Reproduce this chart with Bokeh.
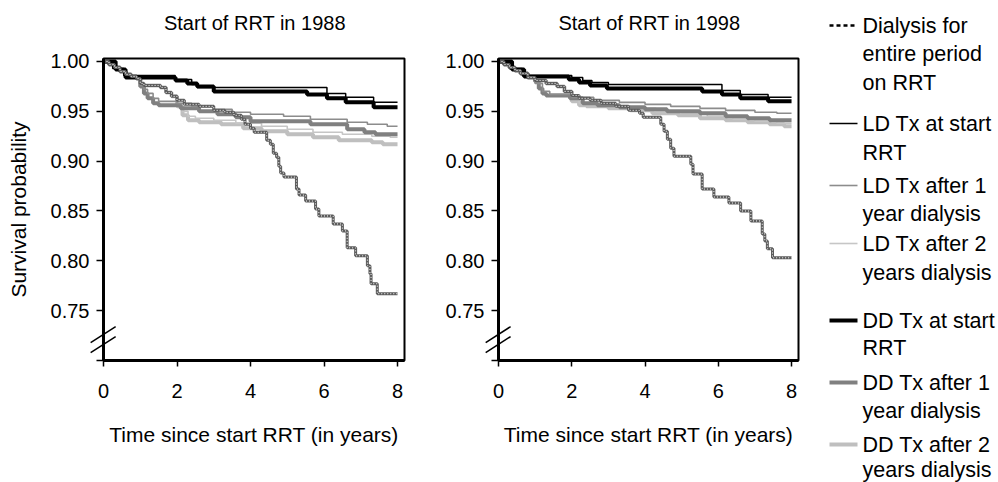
from bokeh.plotting import figure
from bokeh.layouts import row
from bokeh.models import Range1d, FixedTicker
from bokeh.embed import file_html
from bokeh.resources import INLINE
from bokeh.core.properties import value

FONT = "Liberation Sans"

# ---------------- data ----------------
x_ticks = [0, 2, 4, 6, 8]
x_tick_labels = ["0", "2", "4", "6", "8"]
y_ticks = [0.70, 0.75, 0.80, 0.85, 0.90, 0.95, 1.00]
y_tick_labels = ["", "0.75", "0.80", "0.85", "0.90", "0.95", "1.00"]

panel_titles = ["Start of RRT in 1988", "Start of RRT in 1998"]
x_label = "Time since start RRT (in years)"
y_label = "Survival probability"

legend_lines = [["Dialysis for", "entire period", "on RRT"],
                ["LD Tx at start", "RRT"],
                ["LD Tx after 1", "year dialysis"],
                ["LD Tx after 2", "years dialysis"],
                ["DD Tx at start", "RRT"],
                ["DD Tx after 1", "year dialysis"],
                ["DD Tx after 2", "years dialysis"]]

# 1988
dial88_t = [0.00, 0.15, 0.30, 0.45, 0.60, 0.75, 0.90, 1.00, 1.10, 1.55, 1.70, 1.85, 2.00, 2.20, 2.60,
            3.00, 3.30, 3.55, 3.75, 3.85, 4.00, 4.10, 4.44, 4.54, 4.62, 4.71, 4.77, 4.82, 4.91, 5.25,
            5.32, 5.50, 5.77, 5.86, 6.25, 6.50, 6.63, 6.86, 7.18, 7.25, 7.28, 7.45, 8.00]
dial88_s = [1.000, 0.997, 0.994, 0.990, 0.987, 0.985, 0.983, 0.978, 0.976, 0.974, 0.969, 0.965, 0.961, 0.957, 0.955,
            0.951, 0.949, 0.946, 0.942, 0.937, 0.933, 0.929, 0.921, 0.917, 0.908, 0.904, 0.895, 0.888, 0.884, 0.872,
            0.866, 0.860, 0.852, 0.845, 0.837, 0.830, 0.813, 0.805, 0.795, 0.787, 0.777, 0.767, 0.767]
ld0_88_t = [0.00, 0.25, 0.55, 1.95, 2.40, 2.55, 6.08, 6.59, 7.35, 8.00]
ld0_88_s = [1.000, 0.993, 0.986, 0.982, 0.977, 0.974, 0.968, 0.964, 0.959, 0.959]
ld1_88_t = [0.00, 0.15, 0.30, 0.45, 0.60, 0.75, 0.90, 1.00, 1.10, 1.20, 1.35, 1.50, 2.00, 2.40, 3.00,
            3.50, 4.00, 4.90, 5.63, 6.63, 7.18, 7.72, 8.00]
ld1_88_s = [1.000, 0.997, 0.994, 0.990, 0.987, 0.985, 0.983, 0.976, 0.972, 0.968, 0.963, 0.960, 0.958, 0.955, 0.952,
            0.949, 0.947, 0.945, 0.942, 0.939, 0.937, 0.935, 0.935]
ld2_88_t = [0.00, 0.15, 0.30, 0.45, 0.60, 0.75, 0.90, 1.00, 1.10, 1.55, 1.70, 1.85, 2.00, 2.15, 2.30,
            2.50, 3.00, 3.60, 4.30, 5.00, 5.70, 6.50, 7.30, 7.80, 8.00]
ld2_88_s = [1.000, 0.997, 0.994, 0.990, 0.987, 0.985, 0.983, 0.978, 0.976, 0.974, 0.969, 0.965, 0.958, 0.950, 0.945,
            0.943, 0.941, 0.938, 0.935, 0.932, 0.929, 0.927, 0.925, 0.924, 0.924]
dd0_88_t = [0.00, 0.33, 0.60, 1.96, 2.28, 2.55, 3.00, 5.54, 6.08, 6.59, 7.35, 8.00]
dd0_88_s = [1.000, 0.992, 0.984, 0.981, 0.978, 0.975, 0.970, 0.967, 0.963, 0.959, 0.954, 0.954]
dd1_88_t = [0.00, 0.15, 0.30, 0.45, 0.60, 0.75, 0.90, 1.00, 1.10, 1.20, 1.35, 1.50, 2.10, 2.60, 3.10,
            3.60, 4.00, 5.63, 6.63, 7.10, 7.40, 8.00]
dd1_88_s = [1.000, 0.997, 0.994, 0.990, 0.987, 0.985, 0.983, 0.975, 0.968, 0.963, 0.958, 0.956, 0.953, 0.950, 0.947,
            0.944, 0.940, 0.937, 0.932, 0.929, 0.927, 0.927]
dd2_88_t = [0.00, 0.15, 0.30, 0.45, 0.60, 0.75, 0.90, 1.00, 1.10, 1.55, 1.70, 1.85, 2.00, 2.15, 2.30,
            2.60, 3.20, 3.80, 4.30, 5.00, 5.70, 6.40, 7.30, 7.60, 8.00]
dd2_88_s = [1.000, 0.997, 0.994, 0.990, 0.987, 0.985, 0.983, 0.978, 0.976, 0.974, 0.969, 0.965, 0.955, 0.946, 0.941,
            0.939, 0.937, 0.933, 0.930, 0.927, 0.924, 0.921, 0.919, 0.917, 0.917]

# 1998
dial98_t = [0.00, 0.15, 0.30, 0.45, 0.60, 0.80, 1.00, 1.30, 1.60, 1.80, 2.00, 2.20, 2.50, 2.80, 3.20,
            3.55, 3.85, 3.95, 4.43, 4.52, 4.61, 4.70, 4.79, 5.25, 5.31, 5.56, 5.88, 6.29, 6.61, 6.89,
            7.20, 7.27, 7.34, 7.48, 8.00]
dial98_s = [1.000, 0.997, 0.994, 0.991, 0.988, 0.984, 0.981, 0.978, 0.975, 0.970, 0.966, 0.963, 0.961, 0.958, 0.955,
            0.951, 0.948, 0.944, 0.937, 0.930, 0.922, 0.913, 0.905, 0.897, 0.887, 0.872, 0.864, 0.858, 0.850, 0.840,
            0.827, 0.820, 0.812, 0.803, 0.803]
ld0_98_t = [0.00, 0.30, 0.65, 2.00, 2.30, 2.55, 3.00, 6.10, 6.60, 7.36, 8.00]
ld0_98_s = [1.000, 0.993, 0.986, 0.984, 0.981, 0.979, 0.977, 0.971, 0.967, 0.964, 0.964]
ld1_98_t = [0.00, 0.15, 0.30, 0.45, 0.60, 0.80, 1.00, 1.20, 1.40, 2.00, 2.60, 3.30, 4.00, 4.70, 5.50,
            6.20, 7.00, 7.60, 8.00]
ld1_98_s = [1.000, 0.997, 0.994, 0.991, 0.988, 0.984, 0.978, 0.970, 0.967, 0.964, 0.961, 0.959, 0.957, 0.955, 0.953,
            0.951, 0.949, 0.948, 0.948]
ld2_98_t = [0.00, 0.15, 0.30, 0.45, 0.60, 0.80, 1.00, 1.30, 1.60, 1.80, 2.00, 2.20, 2.40, 3.00, 3.60,
            4.30, 5.00, 5.70, 6.40, 7.00, 7.60, 8.00]
ld2_98_s = [1.000, 0.997, 0.994, 0.991, 0.988, 0.984, 0.981, 0.978, 0.975, 0.970, 0.962, 0.958, 0.957, 0.955, 0.953,
            0.950, 0.948, 0.945, 0.942, 0.940, 0.938, 0.938]
dd0_98_t = [0.00, 0.37, 0.70, 1.92, 2.20, 2.50, 2.96, 5.56, 6.10, 6.60, 7.36, 8.00]
dd0_98_s = [1.000, 0.992, 0.985, 0.982, 0.979, 0.976, 0.973, 0.970, 0.967, 0.963, 0.960, 0.960]
dd1_98_t = [0.00, 0.15, 0.30, 0.45, 0.60, 0.80, 1.00, 1.10, 1.20, 1.30, 1.95, 2.30, 2.70, 3.30, 4.00,
            4.60, 5.50, 6.20, 6.80, 7.40, 8.00]
dd1_98_s = [1.000, 0.997, 0.994, 0.991, 0.988, 0.984, 0.980, 0.973, 0.968, 0.966, 0.963, 0.958, 0.956, 0.954, 0.952,
            0.950, 0.948, 0.945, 0.943, 0.941, 0.941]
dd2_98_t = [0.00, 0.15, 0.30, 0.45, 0.60, 0.80, 1.00, 1.30, 1.60, 1.80, 2.00, 2.20, 2.40, 3.00, 3.60,
            4.20, 4.90, 5.50, 6.20, 6.80, 7.40, 7.80, 8.00]
dd2_98_s = [1.000, 0.997, 0.994, 0.991, 0.988, 0.984, 0.981, 0.978, 0.975, 0.970, 0.960, 0.956, 0.955, 0.953, 0.951,
            0.948, 0.946, 0.943, 0.941, 0.939, 0.937, 0.935, 0.935]

axis_break_y = 0.72

# ---------------- layout / styles ----------------
X_END = 8.19
Y_START, Y_END = 0.70, 1.003
TITLE_Y = 1.039          # just above the frame (data units of the survival axis)
TITLE_X = 4.12
FIG_H = 482
TOP, BOTTOM = 58, 122

DIAL_COLOR = "#5c5c5c"
styles = {
    "ld0": dict(line_color="black", line_width=1.5),
    "ld1": dict(line_color="#8c8c8c", line_width=1.6),
    "ld2": dict(line_color="#c6c6c6", line_width=1.6),
    "dd0": dict(line_color="black", line_width=4),
    "dd1": dict(line_color="#808080", line_width=4),
    "dd2": dict(line_color="#bfbfbf", line_width=4),
}


def make_panel(title, curves, width, border_left, border_right, show_ylabel):
    p = figure(width=width, height=FIG_H, output_backend="svg", toolbar_location=None, tools="",
               x_range=Range1d(0, X_END), y_range=Range1d(Y_START, Y_END),
               min_border_left=border_left, min_border_right=border_right,
               min_border_top=TOP, min_border_bottom=BOTTOM)
    p.grid.visible = False
    p.outline_line_color = "black"
    p.outline_line_width = 2
    p.outline_line_alpha = 1.0

    for ax in (p.xaxis[0], p.yaxis[0]):
        ax.axis_line_width = 3
        ax.axis_line_color = "black"
        ax.major_tick_line_width = 1.5
        ax.major_tick_line_color = "black"
        ax.major_tick_in = 0
        ax.minor_tick_line_color = None
        ax.major_label_text_font = FONT
        ax.major_label_text_font_size = "20px"
        ax.major_label_text_color = "black"
        ax.axis_label_text_font = FONT
        ax.axis_label_text_font_size = "21px"
        ax.axis_label_text_font_style = "normal"
        ax.axis_label_text_color = "black"

    xa = p.xaxis[0]
    xa.ticker = FixedTicker(ticks=x_ticks)
    xa.major_label_overrides = {t: l for t, l in zip(x_ticks, x_tick_labels)}
    xa.major_tick_out = 6
    xa.major_label_standoff = 17
    xa.axis_label = x_label
    xa.axis_label_standoff = 22

    ya = p.yaxis[0]
    ya.ticker = FixedTicker(ticks=y_ticks)
    ya.major_label_overrides = {t: l for t, l in zip(y_ticks, y_tick_labels)}
    ya.major_tick_out = 7
    ya.major_label_standoff = 7
    if show_ylabel:
        ya.axis_label = y_label
        ya.axis_label_standoff = 18

    dial_t, dial_s = curves["dial"]
    for key in ("dd2", "ld2", "dd1", "ld1", "dd0", "ld0"):
        t, s = curves[key]
        p.step(x=t, y=s, mode="after", **styles[key])
    p.step(x=dial_t, y=dial_s, mode="after", line_color=DIAL_COLOR, line_width=3)
    p.step(x=dial_t, y=dial_s, mode="after", line_color="white", line_width=1, line_dash="1 2")

    # axis-break marks
    p.segment(x0=[-0.35, -0.35], y0=[axis_break_y - 0.012, axis_break_y - 0.002],
              x1=[0.33, 0.33], y1=[axis_break_y + 0.004, axis_break_y + 0.014],
              line_color="black", line_width=1.5, level="overlay")

    # panel title
    p.text(x=[TITLE_X], y=[TITLE_Y], text=[title], text_font=value(FONT), text_font_size="20px",
           text_align="center", text_baseline="middle", text_color="black", level="overlay")
    return p


curves88 = {"dial": (dial88_t, dial88_s), "ld0": (ld0_88_t, ld0_88_s), "ld1": (ld1_88_t, ld1_88_s),
            "ld2": (ld2_88_t, ld2_88_s), "dd0": (dd0_88_t, dd0_88_s), "dd1": (dd1_88_t, dd1_88_s),
            "dd2": (dd2_88_t, dd2_88_s)}
curves98 = {"dial": (dial98_t, dial98_s), "ld0": (ld0_98_t, ld0_98_s), "ld1": (ld1_98_t, ld1_98_s),
            "ld2": (ld2_98_t, ld2_98_s), "dd0": (dd0_98_t, dd0_98_s), "dd1": (dd1_98_t, dd1_98_s),
            "dd2": (dd2_98_t, dd2_98_s)}

p1 = make_panel(panel_titles[0], curves88, 424, 103, 20, True)
p2 = make_panel(panel_titles[1], curves98, 382, 74, 8, False)

# ---------------- legend (own canvas, page-pixel coordinates) ----------------
LEG_X0, LEG_W = 806, 192
leg = figure(width=LEG_W, height=FIG_H, output_backend="svg", toolbar_location=None, tools="",
             x_range=Range1d(LEG_X0, LEG_X0 + LEG_W), y_range=Range1d(FIG_H - BOTTOM, TOP),
             x_axis_location=None, y_axis_location=None,
             min_border_left=0, min_border_right=0, min_border_top=TOP, min_border_bottom=BOTTOM)
leg.grid.visible = False
leg.outline_line_color = None

entry_y = [[25, 53, 82], [123, 152], [185, 213], [243, 272], [320, 347], [382, 410], [444, 469]]
sample_styles = [dict(line_color="black", line_width=2.5, line_dash="4 3"),
                 dict(line_color="black", line_width=1.5),
                 dict(line_color="#8c8c8c", line_width=1.6),
                 dict(line_color="#c6c6c6", line_width=1.6),
                 dict(line_color="black", line_width=4),
                 dict(line_color="#808080", line_width=4),
                 dict(line_color="#bfbfbf", line_width=4)]
tx, ty, tt = [], [], []
for lines, ys, st in zip(legend_lines, entry_y, sample_styles):
    leg.segment(x0=[829], y0=[ys[0]], x1=[857], y1=[ys[0]], level="overlay", **st)
    for line, y in zip(lines, ys):
        tx.append(862)
        ty.append(y)
        tt.append(line)
leg.text(x=tx, y=ty, text=tt, text_font=value(FONT), text_font_size="21.5px",
         text_baseline="middle", text_align="left", text_color="black", level="overlay")

layout = row(p1, p2, leg)
open("out.html", "w").write(file_html(layout, INLINE))
